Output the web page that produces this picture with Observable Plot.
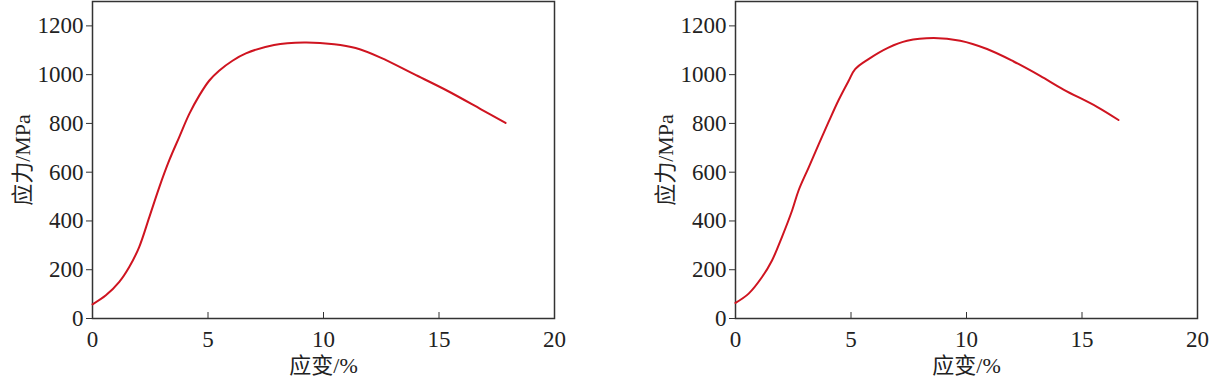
<!DOCTYPE html>
<html>
<head>
<meta charset="utf-8">
<script src="https://cdn.jsdelivr.net/npm/d3@7"></script>
<script src="https://cdn.jsdelivr.net/npm/@observablehq/plot@0.6"></script>
<style>
  html, body { margin: 0; padding: 0; background: #fff; }
  #wrap { display: flex; width: 1211px; height: 378px; }
  svg { display: block; }
</style>
</head>
<body>
<div id="wrap"></div>
<script>
const strainA = [0, 0.58, 1.16, 1.59, 2.02, 2.46, 2.89, 3.32, 3.75, 4.19, 4.62, 5.05, 5.48, 6.06, 6.64, 7.86, 9.16, 10.46, 11.39, 12.47, 13.92, 15.36, 16.8, 17.88];
const stressA = [58, 95, 150, 211, 293, 416, 538, 648, 743, 839, 914, 975, 1016, 1057, 1087, 1122, 1132, 1125, 1109, 1070, 1002, 934, 859, 802];

const strainB = [0, 0.57, 1.15, 1.58, 2.01, 2.45, 2.73, 3.17, 3.6, 4.03, 4.46, 4.9, 5.18, 5.76, 6.62, 7.43, 8.58, 9.73, 10.89, 12.04, 13.19, 14.2, 15.65, 16.58];
const stressB = [64, 102, 170, 238, 334, 443, 525, 620, 714, 806, 895, 975, 1023, 1064, 1111, 1139, 1150, 1139, 1105, 1054, 995, 939, 868, 814];

const xTicks = [0, 5, 10, 15, 20];
const yTicks = [0, 200, 400, 600, 800, 1000, 1200];
const xLabel = "应变/%";
const yLabel = "应力/MPa";

const font = "'Liberation Serif', 'Noto Sans CJK SC', serif";

function panel(strain, stress, width, marginLeft, marginRight) {
  const data = strain.map((x, i) => ({x, y: stress[i]}));
  return Plot.plot({
    width, height: 378,
    marginLeft, marginRight, marginTop: 1, marginBottom: 60,
    style: {fontFamily: font, fontSize: "22px", color: "#222", background: "#fff"},
    x: {domain: [0, 20]},
    y: {domain: [0, 1300]},
    marks: [
      Plot.frame({stroke: "#333", strokeWidth: 1.5}),
      Plot.axisX({ticks: xTicks, tickSize: -6, tickPadding: 18, tickFormat: d => String(d), stroke: "#333", fontSize: 23, label: null}),
      Plot.axisX({ticks: [], tickSize: 0, label: xLabel, labelArrow: false, labelAnchor: "center", labelOffset: 54, fontSize: 22}),
      Plot.axisY({ticks: yTicks, tickSize: 6, tickPadding: 3, tickFormat: d => String(d), stroke: "#333", fontSize: 23, label: null}),
      Plot.axisY({ticks: [], tickSize: 0, label: yLabel, labelArrow: false, labelAnchor: "center", labelOffset: 78, fontSize: 22}),
      Plot.line(data, {x: "x", y: "y", stroke: "#cf1420", strokeWidth: 2, curve: "catmull-rom"})
    ]
  });
}

const wrap = document.getElementById("wrap");
wrap.appendChild(panel(strainA, stressA, 605, 92, 51));
wrap.appendChild(panel(strainB, stressB, 606, 130, 14));
</script>
</body>
</html>
